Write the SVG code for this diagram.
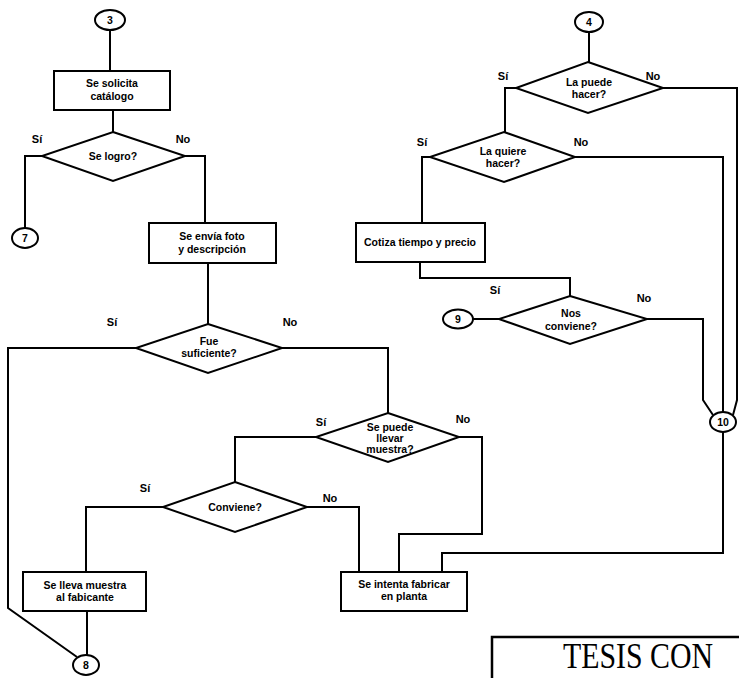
<svg xmlns="http://www.w3.org/2000/svg" width="739" height="678" viewBox="0 0 739 678">
<style>
.s{fill:#fff;stroke:#000;stroke-width:2}
.c{fill:none;stroke:#000;stroke-width:2;stroke-linejoin:miter}
.t{font-family:"Liberation Sans",Arial,sans-serif;font-weight:bold;font-size:10.5px;fill:#000;text-anchor:middle}
.l{font-family:"Liberation Sans",Arial,sans-serif;font-weight:bold;font-size:11px;fill:#000;text-anchor:middle}
.big{font-family:"Liberation Serif","Times New Roman",serif;font-size:35px;fill:#000}
</style>
<rect width="739" height="678" fill="#fff"/>
<g id="connectors" class="c">
<path d="M110 30 V71"/>
<path d="M113 110 V132"/>
<path d="M42 156 H25 V228"/>
<path d="M185 156 H205 V223"/>
<path d="M208 263 V324"/>
<path d="M136 348 H8 V608 L77 657"/>
<path d="M282 348 H388 V413"/>
<path d="M316 437 H235 V482"/>
<path d="M163 507 H86 V572"/>
<path d="M87 611 V655"/>
<path d="M307 507 H359 V572"/>
<path d="M459 437 H482 V534 H399 V572"/>
<path d="M589 32 V62"/>
<path d="M663 88 H737 V400 L733 415"/>
<path d="M516 88 H505 V132"/>
<path d="M575 157 H723 V412"/>
<path d="M430 157 H422 V223"/>
<path d="M420 262 V278 H570 V296"/>
<path d="M499 319 H473"/>
<path d="M647 319 H703 V400 L713 415"/>
<path d="M723 432 V553 H442 V572"/>
</g>
<g id="labels">
<text class="l" x="37" y="143">Sí</text>
<text class="l" x="183" y="143">No</text>
<text class="l" x="112" y="326">Sí</text>
<text class="l" x="290" y="326">No</text>
<text class="l" x="321" y="426">Sí</text>
<text class="l" x="463" y="423">No</text>
<text class="l" x="145" y="492">Sí</text>
<text class="l" x="330" y="502">No</text>
<text class="l" x="503" y="80">Sí</text>
<text class="l" x="653" y="80">No</text>
<text class="l" x="422" y="146">Sí</text>
<text class="l" x="581" y="146">No</text>
<text class="l" x="495" y="294">Sí</text>
<text class="l" x="644" y="302">No</text>
</g>
<g id="c3"><ellipse class="s" cx="110" cy="20" rx="15" ry="10"/><text class="t" x="110" y="24">3</text></g>
<g id="n-solicita"><rect class="s" x="54" y="71" width="116" height="39"/><text class="t" x="112" y="87">Se solicita</text><text class="t" x="112" y="100">catálogo</text></g>
<g id="d-logro"><polygon class="s" points="113,132 185,156 113,181 42,156"/><text class="t" x="113" y="160">Se logro?</text></g>
<g id="c7"><ellipse class="s" cx="25" cy="238" rx="13" ry="10"/><text class="t" x="25" y="242">7</text></g>
<g id="n-foto"><rect class="s" x="149" y="223" width="127" height="40"/><text class="t" x="212" y="240">Se envía foto</text><text class="t" x="212" y="253">y descripción</text></g>
<g id="d-suficiente"><polygon class="s" points="208,324 282,348 208,373 136,348"/><text class="t" x="209" y="345">Fue</text><text class="t" x="209" y="357">suficiente?</text></g>
<g id="d-muestra"><polygon class="s" points="388,413 459,437 388,462 316,437"/><text class="t" x="390" y="431">Se puede</text><text class="t" x="390" y="442">llevar</text><text class="t" x="390" y="453">muestra?</text></g>
<g id="d-conviene"><polygon class="s" points="235,482 307,507 235,532 163,507"/><text class="t" x="235" y="511">Conviene?</text></g>
<g id="n-lleva"><rect class="s" x="23" y="572" width="123" height="39"/><text class="t" x="85" y="589">Se lleva muestra</text><text class="t" x="85" y="601">al fabicante</text></g>
<g id="c8"><ellipse class="s" cx="86" cy="665" rx="13" ry="10"/><text class="t" x="86" y="669">8</text></g>
<g id="n-planta"><rect class="s" x="341" y="572" width="126" height="39"/><text class="t" x="404" y="588">Se intenta fabricar</text><text class="t" x="404" y="600">en planta</text></g>
<g id="c4"><ellipse class="s" cx="589" cy="22" rx="14" ry="10"/><text class="t" x="589" y="26">4</text></g>
<g id="d-puede"><polygon class="s" points="588,62 663,88 588,113 516,88"/><text class="t" x="589" y="86">La puede</text><text class="t" x="589" y="98">hacer?</text></g>
<g id="d-quiere"><polygon class="s" points="504,132 575,157 504,182 430,157"/><text class="t" x="503" y="155">La quiere</text><text class="t" x="503" y="167">hacer?</text></g>
<g id="n-cotiza"><rect class="s" x="356" y="223" width="129" height="39"/><text class="t" x="420" y="246">Cotiza tiempo y precio</text></g>
<g id="d-nos"><polygon class="s" points="570,296 647,319 570,344 499,319"/><text class="t" x="571" y="317">Nos</text><text class="t" x="571" y="330">conviene?</text></g>
<g id="c9"><ellipse class="s" cx="458" cy="319" rx="15" ry="9.5"/><text class="t" x="458" y="323">9</text></g>
<g id="c10"><ellipse class="s" cx="723" cy="422" rx="13" ry="10"/><text class="t" x="723" y="426">10</text></g>
<g id="stamp"><path class="c" d="M492 678 V637 H739" style="stroke-width:2.5"/><text class="big" x="563" y="668" textLength="150" lengthAdjust="spacingAndGlyphs">TESIS CON</text></g>
</svg>
